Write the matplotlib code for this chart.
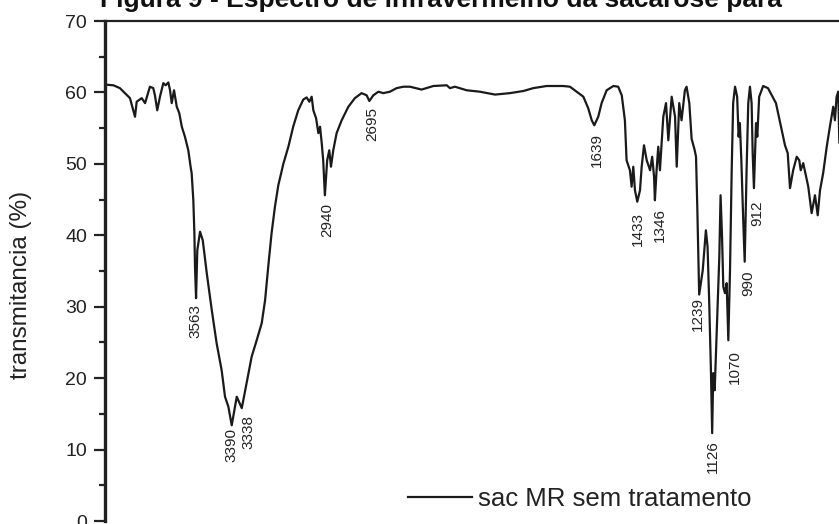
import matplotlib
matplotlib.use("Agg")
import matplotlib.pyplot as plt
from matplotlib.ticker import MultipleLocator

plt.rcParams['font.family'] = ['Liberation Sans', 'DejaVu Sans']

# ---- data (wavenumber cm^-1, transmittance %) ----
wavenumber = [4000, 3960, 3929, 3905, 3881, 3857, 3849, 3825, 3809, 3786, 3770, 3762,
              3751, 3738, 3722, 3711, 3698, 3690, 3682, 3671, 3658, 3646, 3634, 3619,
              3603, 3592, 3587, 3579, 3574, 3571, 3566, 3560, 3547, 3534, 3515, 3491,
              3468, 3444, 3428, 3412, 3396, 3372, 3348, 3325, 3301, 3277, 3253, 3237,
              3222, 3206, 3190, 3174, 3150, 3126, 3103, 3079, 3055, 3039, 3026, 3015,
              3007, 2994, 2983, 2975, 2967, 2960, 2952, 2941, 2931, 2923, 2912, 2896,
              2872, 2840, 2809, 2777, 2753, 2740, 2721, 2697, 2674, 2642, 2610, 2578,
              2546, 2491, 2435, 2371, 2356, 2332, 2276, 2213, 2141, 2070, 2006, 1959,
              1895, 1816, 1784, 1752, 1720, 1697, 1680, 1668, 1649, 1633, 1609, 1577,
              1554, 1537, 1522, 1514, 1498, 1490, 1482, 1474, 1463, 1450, 1442, 1431,
              1418, 1402, 1392, 1383, 1379, 1371, 1363, 1355, 1339, 1326, 1315, 1299,
              1283, 1275, 1263, 1252, 1236, 1228, 1215, 1204, 1190, 1183, 1177, 1172,
              1168, 1151, 1136, 1128, 1120, 1112, 1106, 1101, 1094, 1085, 1072, 1066,
              1059, 1053, 1045, 1037, 1029, 1021, 1013, 1006, 997, 987, 980, 974,
              967, 958, 951, 942, 934, 926, 918, 913, 907, 897, 891, 882,
              863, 840, 802, 778, 759, 746, 735, 720, 703, 691, 684, 672,
              648, 632, 616, 603, 592, 577, 560, 545, 529, 521, 513, 505, 500]
transmittance = [61.1, 61.0, 60.6, 59.9, 59.2, 56.6, 58.7, 59.2, 58.5, 60.8, 60.6, 59.6,
                 57.5, 59.4, 61.3, 61.0, 61.4, 60.3, 58.5, 60.3, 58.0, 57.1, 55.2, 53.8,
                 51.9, 49.6, 48.7, 44.9, 40.3, 35.6, 31.2, 37.9, 40.5, 39.3, 34.7, 29.5,
                 24.9, 21.1, 17.4, 16.0, 13.4, 17.4, 15.8, 19.3, 23.0, 25.3, 27.7, 30.9,
                 35.6, 40.3, 44.0, 47.0, 50.0, 52.4, 55.2, 57.5, 59.0, 59.3, 58.7, 59.4,
                 57.5, 56.4, 54.3, 55.2, 52.9, 50.5, 45.6, 50.5, 51.9, 49.6, 51.9, 54.3,
                 56.1, 58.0, 59.2, 59.9, 59.6, 58.8, 59.6, 60.1, 59.9, 60.1, 60.6, 60.8,
                 60.8, 60.4, 60.9, 61.0, 60.6, 60.8, 60.3, 60.1, 59.7, 59.9, 60.2, 60.6,
                 60.9, 60.9, 60.8, 60.1, 59.4, 57.8, 56.1, 55.4, 56.6, 58.5, 60.3, 60.9,
                 60.8, 59.6, 56.1, 50.5, 49.1, 46.8, 49.6, 46.3, 44.7, 46.3, 49.6, 52.6,
                 50.5, 49.1, 51.0, 48.2, 44.9, 49.1, 52.4, 49.1, 56.6, 58.5, 53.3, 59.4,
                 56.6, 49.6, 58.5, 56.1, 60.3, 60.8, 58.5, 53.5, 52.0, 51.0, 44.0, 37.5,
                 31.7, 35.1, 40.7, 38.4, 30.5, 21.1, 12.3, 20.7, 18.3, 25.8, 37.0, 45.6,
                 39.8, 32.8, 31.9, 33.3, 25.3, 35.1, 49.1, 58.5, 60.8, 59.4, 53.8, 55.7,
                 50.5, 42.1, 36.3, 49.1, 58.5, 60.8, 58.5, 51.5, 46.6, 55.7, 53.8, 59.4,
                 60.9, 60.6, 58.5, 55.2, 52.6, 51.5, 46.6, 49.1, 51.0, 50.5, 49.1, 50.1,
                 46.8, 43.1, 45.6, 42.8, 46.3, 48.7, 52.4, 55.2, 58.0, 56.1, 59.4, 60.1, 53.0]

# peak labels: text, position (wavenumber, transmittance) of top of label
peak_text = ["3563", "3390", "3338", "2940", "2695", "1639", "1433", "1346",
             "1239", "1126", "1070", "990", "912"]
peak_wn = [3571, 3395, 3318, 2942, 2727, 1655, 1460, 1355, 1174, 1102, 997, 935, 893]
peak_T = [30.4, 13.0, 14.8, 44.5, 58.0, 54.3, 43.3, 43.8, 31.4, 11.3, 23.9, 35.1, 44.9]

series_label = "sac MR sem tratamento"
title = "Figura 9 - Espectro de infravermelho da sacarose para"
ylabel = "transmitancia (%)"

W, H = 839, 524
fig = plt.figure(figsize=(W / 100, H / 100), dpi=100)
left = 105 / W
bottom = 3 / H
ax = fig.add_axes([left, bottom, 755.3 / W, 500 / H])

line_color = "#1a1a1a"
ax.plot(wavenumber, transmittance, color=line_color, lw=1.6, label=series_label,
        solid_joinstyle="round")
ax.set_xlim(4000, 400)
ax.set_ylim(0, 70)

for s in ["bottom", "right"]:
    ax.spines[s].set_visible(False)
ax.spines["left"].set_linewidth(2.4)
ax.spines["top"].set_linewidth(1.6)
for s in ["left", "top"]:
    ax.spines[s].set_color("#222222")

ax.xaxis.set_visible(False)
ax.yaxis.set_major_locator(MultipleLocator(10))
ax.yaxis.set_minor_locator(MultipleLocator(5))
ax.tick_params(axis="y", which="major", direction="out", length=8, width=1.6,
               labelsize=14, pad=5, colors="#222222")
ax.tick_params(axis="y", which="minor", direction="out", length=4.5, width=1.6,
               colors="#222222")

ax.set_ylabel(ylabel, fontsize=17.5, color="#222222")
ax.yaxis.set_label_coords(-0.097, 0.472)

for t, x, y in zip(peak_text, peak_wn, peak_T):
    ax.text(x, y, t, rotation=90, ha="center", va="top", fontsize=11, color="#222222")

fig.text(100 / W, 1 - 7 / H, title, fontsize=19, fontweight="bold",
         ha="left", va="baseline", color="#111111")

leg = ax.legend(loc="center left", bbox_to_anchor=(408 / W, 1 - 499 / H),
                bbox_transform=fig.transFigure, frameon=False, fontsize=18.5,
                handlelength=2.5, handletextpad=0.23, borderpad=0, borderaxespad=0)
for txt in leg.get_texts():
    txt.set_color("#222222")

fig.savefig("out.png", dpi=100)
